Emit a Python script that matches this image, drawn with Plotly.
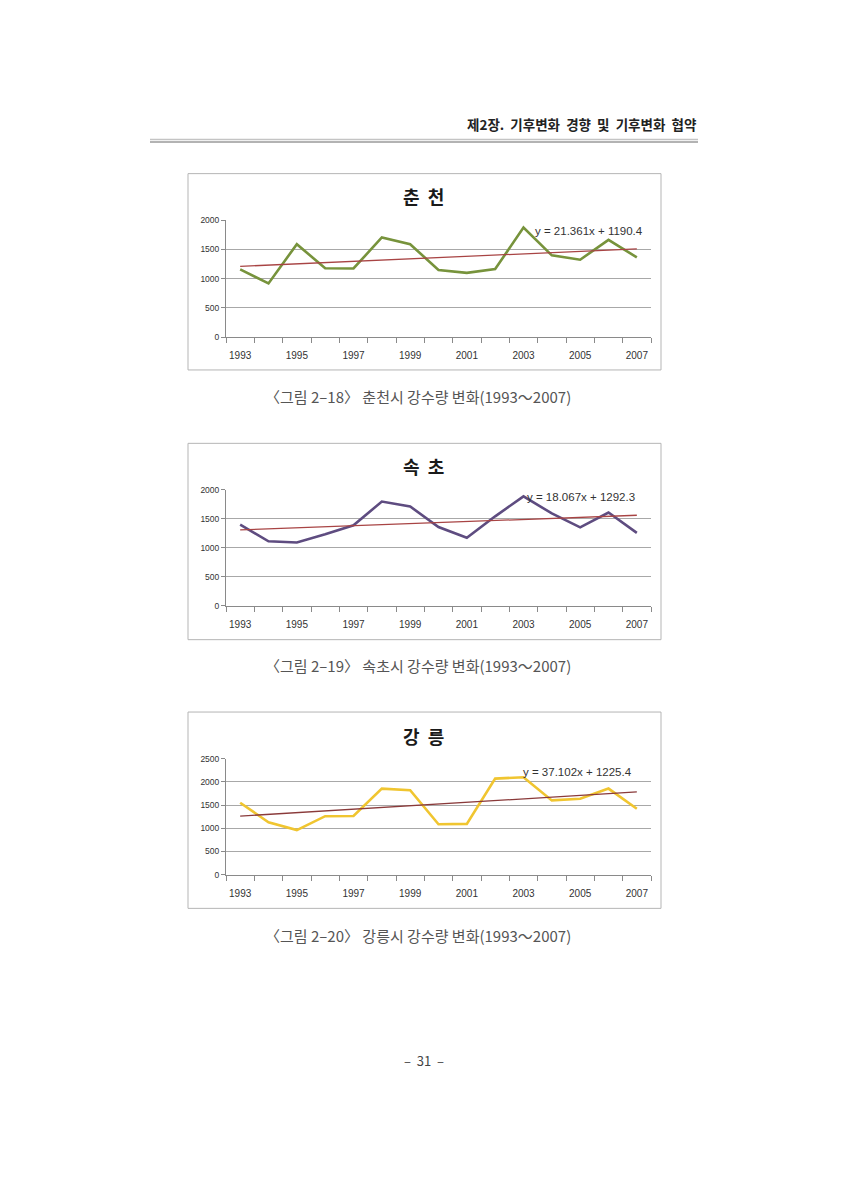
import plotly.graph_objects as go

years = list(range(1993, 2008))
chuncheon = [1160, 920, 1590, 1180, 1175, 1705, 1590, 1150, 1100, 1165, 1875, 1400, 1325, 1665, 1365]
sokcho = [1400, 1115, 1095, 1235, 1390, 1800, 1715, 1360, 1175, 1545, 1890, 1595, 1355, 1610, 1260]
gangneung = [1550, 1130, 960, 1260, 1265, 1855, 1820, 1085, 1095, 2070, 2100, 1600, 1635, 1855, 1420]

titles = ["춘  천", "속  초", "강  릉"]
slopes = [21.361, 18.067, 37.102]
intercepts = [1190.4, 1292.3, 1225.4]
equations = ["y = 21.361x + 1190.4", "y = 18.067x + 1292.3", "y = 37.102x + 1225.4"]
captions = ["〈그림 2–18〉 춘천시 강수량 변화(1993～2007)",
            "〈그림 2–19〉 속초시 강수량 변화(1993～2007)",
            "〈그림 2–20〉 강릉시 강수량 변화(1993～2007)"]
y_max = [2000, 2000, 2500]
tick_years = [1993, 1995, 1997, 1999, 2001, 2003, 2005, 2007]
header = "제2장.  기후변화  경향  및  기후변화  협약"
page_no = "–  31  –"

series = [chuncheon, sokcho, gangneung]
colors = ["#77933C", "#5E4C80", "#F0C530"]
trend_colors = ["#A84444", "#A84444", "#8A3A3A"]

OFF = 8  # default page body margin
W, H = 847 - 2 * OFF, 1200 - 2 * OFF
def px(x):
    return (x - OFF) / W
def py(y):
    return 1 - (y - OFF) / H

# layout geometry in page pixels
plot_x = (226, 651)
plot_y = [(217, 335), (489, 606), (760, 877)]
box_y = [(170, 368), (442, 640), (713, 911)]
box_x = (188, 661)
title_y = [193, 465, 737]
eq_pos = [(589, 228), (581, 496), (577, 773)]
caption_y = [395, 666, 938]

fig = go.Figure()
layout = dict(
    width=W, height=H, margin=dict(l=0, r=0, t=0, b=0),
    paper_bgcolor="white", plot_bgcolor="white", showlegend=False,
    shapes=[], annotations=[],
)

KR = "Noto Sans CJK KR"
for i in range(3):
    sfx = "" if i == 0 else str(i + 1)
    xa, ya = "x" + sfx, "y" + sfx
    fig.add_trace(go.Scatter(x=years, y=series[i], mode="lines",
                             line=dict(color=colors[i], width=2.6),
                             xaxis=xa, yaxis=ya, hoverinfo="skip"))
    idx = list(range(1, len(years) + 1))
    trend = [slopes[i] * k + intercepts[i] for k in idx]
    fig.add_trace(go.Scatter(x=years, y=trend, mode="lines",
                             line=dict(color=trend_colors[i], width=1.3),
                             xaxis=xa, yaxis=ya, hoverinfo="skip"))
    y0, y1 = plot_y[i]
    layout["xaxis" + sfx] = dict(
        domain=[px(plot_x[0]), px(plot_x[1])], anchor=ya,
        range=[1992.5, 2007.5], tickvals=tick_years,
        ticktext=[str(t) for t in tick_years], ticks="outside", ticklen=9,
        tickcolor="rgba(0,0,0,0)",
        tickfont=dict(family="Liberation Sans", size=10, color="#333"),
        showgrid=False, showline=True, linecolor="#8a8a8a", linewidth=1,
        zeroline=False, fixedrange=True,
        minor=dict(tickvals=[y + 0.5 for y in range(1992, 2008)], ticks="outside",
                   ticklen=5, tickcolor="#8a8a8a", showgrid=False),
    )
    layout["yaxis" + sfx] = dict(
        domain=[py(y1), py(y0)], anchor=xa,
        range=[0, y_max[i]], dtick=500, ticks="outside", ticklen=4,
        tickcolor="#8a8a8a",
        tickfont=dict(family="Liberation Sans", size=8.5, color="#333"),
        showgrid=True, gridcolor="#a8a8a8", gridwidth=1,
        showline=True, linecolor="#8a8a8a", linewidth=1,
        zeroline=False, fixedrange=True,
    )
    layout["shapes"].append(dict(type="rect", xref="paper", yref="paper",
                                 x0=px(box_x[0]), x1=px(box_x[1]),
                                 y0=py(box_y[i][1]), y1=py(box_y[i][0]),
                                 line=dict(color="#b5b5b5", width=1), layer="below"))
    layout["annotations"].append(dict(text="<b>" + titles[i] + "</b>", x=px(423),
                                      y=py(title_y[i]), xref="paper", yref="paper",
                                      showarrow=False, xanchor="center", yanchor="middle",
                                      font=dict(family=KR, size=18, color="#1a1a1a")))
    layout["annotations"].append(dict(text=equations[i], x=px(eq_pos[i][0]), y=py(eq_pos[i][1]),
                                      xref="paper", yref="paper", showarrow=False,
                                      xanchor="center", yanchor="middle",
                                      font=dict(family="Liberation Sans", size=11.5, color="#333")))
    layout["annotations"].append(dict(text=captions[i], x=px(418), y=py(caption_y[i]),
                                      xref="paper", yref="paper", showarrow=False,
                                      xanchor="center", yanchor="middle",
                                      font=dict(family=KR, size=15, color="#555")))

# header
layout["annotations"].append(dict(text="<b>" + header + "</b>", x=px(698), y=py(120),
                                  xref="paper", yref="paper", showarrow=False,
                                  xanchor="right", yanchor="middle",
                                  font=dict(family=KR, size=13.5, color="#222")))
layout["shapes"].append(dict(type="line", xref="paper", yref="paper",
                             x0=px(150), x1=px(698), y0=py(135.5), y1=py(135.5),
                             line=dict(color="#c4c4c4", width=1.5)))
layout["shapes"].append(dict(type="line", xref="paper", yref="paper",
                             x0=px(150), x1=px(698), y0=py(138), y1=py(138),
                             line=dict(color="#9a9a9a", width=1.5)))
layout["annotations"].append(dict(text=page_no, x=px(424), y=py(1064),
                                  xref="paper", yref="paper", showarrow=False,
                                  xanchor="center", yanchor="middle",
                                  font=dict(family=KR, size=13, color="#444")))

fig.update_layout(**layout)
fig.write_html("out.html")
